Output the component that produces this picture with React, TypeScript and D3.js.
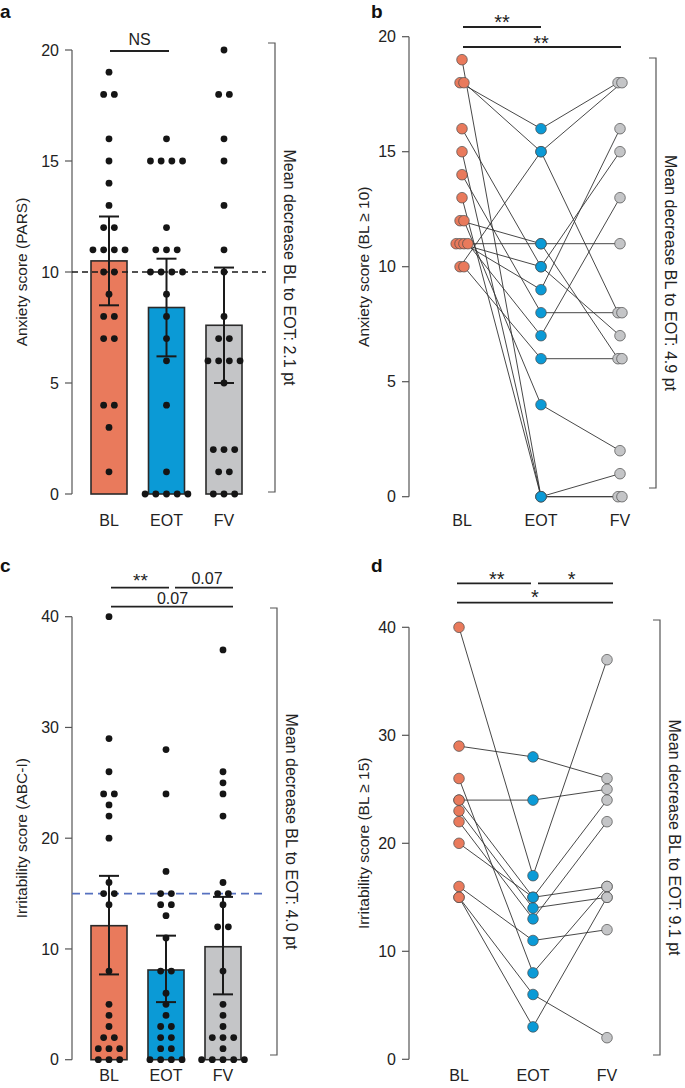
import React from "react";
import * as d3 from "d3";

const groups = ["BL", "EOT", "FV"];
const groupColors = ["#E97A5C", "#0B9AD6", "#C4C5C7"];

// Panel a: anxiety (PARS), all participants
const parsBL = [19, 18, 18, 16, 15, 14, 13, 12, 12, 11, 11, 11, 11, 10, 10, 9, 8, 8, 7, 7, 4, 4, 3, 1];
const parsEOT = [16, 15, 15, 15, 15, 12, 11, 11, 11, 10, 10, 10, 10, 9, 8, 7, 6, 4, 1, 0, 0, 0, 0, 0];
const parsFV = [20, 18, 18, 16, 15, 13, 11, 10, 8, 7, 7, 6, 6, 6, 6, 5, 2, 2, 2, 1, 1, 0, 0, 0];
const parsMean = [10.5, 8.4, 7.6];
const parsLow = [8.5, 6.2, 5.0];
const parsHigh = [12.5, 10.6, 10.2];

// Panel b: anxiety, participants with BL >= 10 (paired)
const pairBL_b = [19, 18, 18, 16, 15, 14, 13, 12, 12, 11, 11, 11, 11, 10, 10];
const pairEOT_b = [0, 16, 15, 10, 0, 8, 0, 11, 4, 11, 10, 9, 7, 15, 6];
const pairFV_b = [0, 18, 8, 15, 1, 8, 0, 11, 2, 6, 7, 16, 13, 18, 6];

// Panel c: irritability (ABC-I), all participants
const abcBL = [40, 29, 26, 24, 24, 23, 22, 20, 16, 15, 15, 14, 8, 5, 4, 3, 2, 2, 1, 1, 1, 0, 0, 0];
const abcEOT = [28, 24, 17, 15, 15, 14, 14, 13, 11, 8, 8, 6, 5, 4, 3, 3, 2, 2, 1, 1, 0, 0, 0, 0];
const abcFV = [37, 26, 25, 24, 22, 16, 15, 15, 14, 12, 12, 8, 5, 4, 3, 2, 2, 2, 1, 0, 0, 0, 0, 0];
const abcMean = [12.1, 8.1, 10.2];
const abcLow = [7.7, 5.2, 5.9];
const abcHigh = [16.6, 11.2, 14.7];

// Panel d: irritability, participants with BL >= 15 (paired)
const pairBL_d = [40, 29, 24, 26, 24, 23, 22, 20, 16, 15, 15];
const pairEOT_d = [17, 28, 24, 8, 15, 14, 13, 15, 11, 6, 3];
const pairFV_d = [37, 26, 25, 16, 24, 15, 22, 16, 12, 2, 15];

const ticksA = [0, 5, 10, 15, 20];
const ticksC = [0, 10, 20, 30, 40];

const FONT = "'Liberation Sans', Arial, Helvetica, sans-serif";
const AX = "#555";

function swarm(values: number[], step: number) {
  const counts = new Map<number, number>();
  values.forEach((v) => counts.set(v, (counts.get(v) || 0) + 1));
  const seen = new Map<number, number>();
  return values.map((v) => {
    const n = counts.get(v) || 1;
    const i = seen.get(v) || 0;
    seen.set(v, i + 1);
    return { v, dx: (i - (n - 1) / 2) * step };
  });
}

function YAxis({ y, x, ticks }: any) {
  const [r0, r1] = y.range();
  return (
    <g>
      <line x1={x} x2={x} y1={r0} y2={r1} stroke={AX} strokeWidth={1.2} />
      {ticks.map((t: number) => (
        <g key={t}>
          <line x1={x - 7} x2={x} y1={y(t)} y2={y(t)} stroke={AX} strokeWidth={1.2} />
          <text x={x - 13} y={y(t)} dy="0.36em" textAnchor="end" fontSize={16} fill="#222">
            {t}
          </text>
        </g>
      ))}
    </g>
  );
}

function SideNote({ x, y0, y1, textX, text }: any) {
  return (
    <g>
      <path d={`M${x - 7},${y0}H${x}V${y1}H${x - 7}`} fill="none" stroke={AX} strokeWidth={1.2} />
      <text
        transform={`translate(${textX},${(y0 + y1) / 2}) rotate(90)`}
        textAnchor="middle"
        dy="0.35em"
        fontSize={16}
        fill="#222"
      >
        {text}
      </text>
    </g>
  );
}

function Sig({ items }: any) {
  return (
    <g>
      {items.map((s: any, i: number) => (
        <g key={i}>
          <line x1={s.x1} x2={s.x2} y1={s.y} y2={s.y} stroke="#222" strokeWidth={1.8} />
          <text x={s.tx} y={s.ty} textAnchor="middle" fontSize={s.fs || 16} fill="#222">
            {s.label}
          </text>
        </g>
      ))}
    </g>
  );
}

function BarPanel(p: any) {
  const y = d3.scaleLinear().domain([0, p.yMax]).range(p.yRange);
  const x = d3.scalePoint<string>().domain(groups).range(p.xRange);
  const bw = 36;
  return (
    <g>
      <text x={p.lx} y={p.ly} fontSize={19} fontWeight="bold" fill="#111">
        {p.letter}
      </text>
      <YAxis y={y} x={p.axisX} ticks={p.ticks} />
      <text
        transform={`translate(${p.titleX},${(p.yRange[0] + p.yRange[1]) / 2}) rotate(-90)`}
        textAnchor="middle"
        fontSize={15.5}
        fill="#222"
      >
        {p.title}
      </text>
      {groups.map((g, i) => (
        <rect
          key={g}
          x={(x(g) as number) - bw / 2}
          y={y(p.means[i])}
          width={bw}
          height={y(0) - y(p.means[i])}
          fill={groupColors[i]}
          stroke="#2a2a2a"
          strokeWidth={1.6}
        />
      ))}
      <line
        x1={p.axisX}
        x2={p.refEnd}
        y1={y(p.refVal)}
        y2={y(p.refVal)}
        stroke={p.refColor}
        strokeWidth={1.6}
        strokeDasharray={p.refDash}
      />
      {groups.map((g, i) => {
        const cx = x(g) as number;
        return (
          <g key={g} stroke="#1a1a1a" strokeWidth={2}>
            <line x1={cx} x2={cx} y1={y(p.low[i])} y2={y(p.high[i])} />
            <line x1={cx - 10} x2={cx + 10} y1={y(p.low[i])} y2={y(p.low[i])} />
            <line x1={cx - 10} x2={cx + 10} y1={y(p.high[i])} y2={y(p.high[i])} />
          </g>
        );
      })}
      {p.data.map((vals: number[], i: number) =>
        swarm(vals, 10.7).map((d, j) => (
          <circle key={`${i}-${j}`} cx={(x(groups[i]) as number) + d.dx} cy={y(d.v)} r={3.4} fill="#151515" />
        ))
      )}
      {groups.map((g) => (
        <text key={g} x={x(g) as number} y={p.xLabelY} textAnchor="middle" fontSize={16} fill="#222">
          {g}
        </text>
      ))}
      <Sig items={p.sig} />
      <SideNote {...p.note} />
    </g>
  );
}

function PairPanel(p: any) {
  const y = d3.scaleLinear().domain([0, p.yMax]).range(p.yRange);
  const x = d3.scalePoint<string>().domain(groups).range(p.xRange);
  const cols = [p.bl, p.eot, p.fv];
  const pos = cols.map((vals: number[], i: number) =>
    (p.dodge[i] ? swarm(vals, p.dodgeStep) : vals.map((v) => ({ v, dx: 0 }))).map((d) => ({
      cx: (x(groups[i]) as number) + d.dx,
      cy: y(d.v),
    }))
  );
  const line = d3
    .line<{ cx: number; cy: number }>()
    .x((d) => d.cx)
    .y((d) => d.cy);
  return (
    <g>
      <text x={p.lx} y={p.ly} fontSize={19} fontWeight="bold" fill="#111">
        {p.letter}
      </text>
      <YAxis y={y} x={p.axisX} ticks={p.ticks} />
      <text
        transform={`translate(${p.titleX},${(p.yRange[0] + p.yRange[1]) / 2}) rotate(-90)`}
        textAnchor="middle"
        fontSize={15.5}
        fill="#222"
      >
        {p.title}
      </text>
      {p.bl.map((_: number, k: number) => (
        <path key={k} d={line([pos[0][k], pos[1][k], pos[2][k]]) || ""} fill="none" stroke="#333" strokeWidth={0.9} />
      ))}
      {pos.map((col: any[], i: number) =>
        col.map((d, k) => (
          <circle key={`${i}-${k}`} cx={d.cx} cy={d.cy} r={5.3} fill={groupColors[i]} stroke="#4a4a4a" strokeWidth={0.7} />
        ))
      )}
      {groups.map((g) => (
        <text key={g} x={x(g) as number} y={p.xLabelY} textAnchor="middle" fontSize={16} fill="#222">
          {g}
        </text>
      ))}
      <Sig items={p.sig} />
      <SideNote {...p.note} />
    </g>
  );
}

export default function App() {
  return (
    <svg
      width={685}
      height={1088}
      viewBox="0 0 685 1088"
      style={{ position: "absolute", left: 0, top: 0, background: "#fff", fontFamily: FONT }}
    >
      <BarPanel
        letter="a"
        lx={0}
        ly={18}
        axisX={72}
        yMax={20}
        yRange={[494, 50]}
        xRange={[109, 224]}
        ticks={ticksA}
        title="Anxiety score (PARS)"
        titleX={27}
        data={[parsBL, parsEOT, parsFV]}
        means={parsMean}
        low={parsLow}
        high={parsHigh}
        refVal={10}
        refEnd={266}
        refColor="#1a1a1a"
        refDash="6,4"
        xLabelY={526}
        sig={[{ x1: 110, x2: 169, y: 51, label: "NS", tx: 139.5, ty: 45 }]}
        note={{ x: 275, y0: 43, y1: 492, textX: 290, text: "Mean decrease BL to EOT: 2.1 pt" }}
      />
      <PairPanel
        letter="b"
        lx={371}
        ly={18}
        axisX={409}
        yMax={20}
        yRange={[496.7, 36.7]}
        xRange={[462, 620]}
        ticks={ticksA}
        title="Anxiety score (BL ≥ 10)"
        titleX={369}
        bl={pairBL_b}
        eot={pairEOT_b}
        fv={pairFV_b}
        dodge={[true, false, true]}
        dodgeStep={3.9}
        xLabelY={526}
        sig={[
          { x1: 463, x2: 541, y: 27, label: "**", tx: 502, ty: 29, fs: 20 },
          { x1: 463, x2: 621, y: 47, label: "**", tx: 541, ty: 50, fs: 20 },
        ]}
        note={{ x: 656, y0: 58, y1: 488, textX: 671, text: "Mean decrease BL to EOT: 4.9 pt" }}
      />
      <BarPanel
        letter="c"
        lx={0}
        ly={572}
        axisX={72}
        yMax={40}
        yRange={[1059.7, 616.7]}
        xRange={[109, 223]}
        ticks={ticksC}
        title="Irritability score (ABC-I)"
        titleX={27}
        data={[abcBL, abcEOT, abcFV]}
        means={abcMean}
        low={abcLow}
        high={abcHigh}
        refVal={15}
        refEnd={266}
        refColor="#5671C0"
        refDash="8,5"
        xLabelY={1081}
        sig={[
          { x1: 111, x2: 169, y: 587.7, label: "**", tx: 140.5, ty: 587, fs: 19 },
          { x1: 175, x2: 233, y: 587.7, label: "0.07", tx: 207, ty: 584 },
          { x1: 111, x2: 233, y: 606.7, label: "0.07", tx: 172.5, ty: 604 },
        ]}
        note={{ x: 277, y0: 608, y1: 1055, textX: 292, text: "Mean decrease BL to EOT: 4.0 pt" }}
      />
      <PairPanel
        letter="d"
        lx={371}
        ly={572}
        axisX={409}
        yMax={40}
        yRange={[1059.3, 627.3]}
        xRange={[459, 607]}
        ticks={ticksC}
        title="Irritability score (BL ≥ 15)"
        titleX={369}
        bl={pairBL_d}
        eot={pairEOT_d}
        fv={pairFV_d}
        dodge={[false, false, false]}
        dodgeStep={0}
        xLabelY={1081}
        sig={[
          { x1: 457, x2: 531, y: 583.3, label: "**", tx: 496.7, ty: 586, fs: 20 },
          { x1: 538, x2: 613, y: 583.3, label: "*", tx: 571.7, ty: 586, fs: 20 },
          { x1: 457, x2: 613, y: 602.7, label: "*", tx: 535, ty: 604, fs: 20 },
        ]}
        note={{ x: 660, y0: 620, y1: 1055, textX: 675, text: "Mean decrease BL to EOT: 9.1 pt" }}
      />
    </svg>
  );
}
